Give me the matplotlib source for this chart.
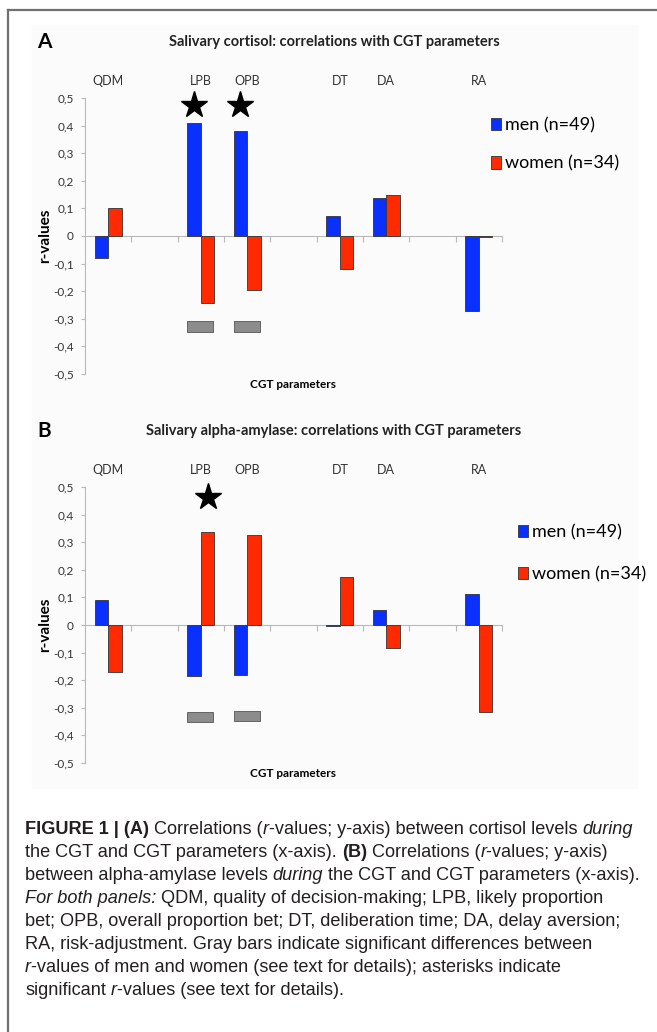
import numpy as np
import matplotlib
matplotlib.use('Agg')
import matplotlib.pyplot as plt
from matplotlib.lines import Line2D
from matplotlib.patches import Patch, Rectangle
from matplotlib.ticker import FuncFormatter
from matplotlib.transforms import IdentityTransform

plt.rcParams['font.family'] = ['Lato', 'DejaVu Sans']

nan = np.nan
# 9 slots on the x axis, three of them left empty in the original chart
categories = ['QDM', '', 'LPB', 'OPB', '', 'DT', 'DA', '', 'RA']

cortisol_men = [-0.080, nan, 0.408, 0.380, nan, 0.071, 0.139, nan, -0.272]
cortisol_women = [0.100, nan, -0.242, -0.196, nan, -0.118, 0.147, nan, -0.005]
cortisol_diff_top = [nan, nan, -0.308, -0.308, nan, nan, nan, nan, nan]
cortisol_diff_bottom = [nan, nan, -0.347, -0.347, nan, nan, nan, nan, nan]
cortisol_star_men = [nan, nan, 0.475, 0.475, nan, nan, nan, nan, nan]
cortisol_star_women = [nan] * 9

amylase_men = [0.091, nan, -0.185, -0.180, nan, -0.005, 0.055, nan, 0.113]
amylase_women = [-0.172, nan, 0.337, 0.325, nan, 0.175, -0.084, nan, -0.314]
amylase_diff_top = [nan, nan, -0.316, -0.313, nan, nan, nan, nan, nan]
amylase_diff_bottom = [nan, nan, -0.353, -0.347, nan, nan, nan, nan, nan]
amylase_star_men = [nan] * 9
amylase_star_women = [nan, nan, 0.464, nan, nan, nan, nan, nan, nan]

legend_labels = ['men (n=49)', 'women (n=34)']
titles = ['Salivary cortisol: correlations with CGT parameters',
          'Salivary alpha-amylase: correlations with CGT parameters']

BLUE = '#0a30ff'
RED = '#ff2a00'
GRAY = '#8c8c8c'
AXGRAY = '#b8b8b8'

W, H = 657, 1032
fig = plt.figure(figsize=(W / 100, H / 100), dpi=100)


def fx(x):
    return x / W


def fy(y):
    return 1 - y / H


# faint panel background + page frame
fig.patches.append(Rectangle((fx(32), fy(788)), fx(637) - fx(32), fy(25) - fy(788),
                             transform=fig.transFigure, color='#fbfbfb', zorder=-10))
fig.lines.append(Line2D([fx(8), fx(8)], [0, fy(10)], transform=fig.transFigure,
                        color='#707070', lw=1.6))
fig.lines.append(Line2D([fx(8), 1], [fy(10), fy(10)], transform=fig.transFigure,
                        color='#707070', lw=1.6))


def yfmt(v, pos):
    if abs(v) < 1e-9:
        return '0'
    return ('%.1f' % v).replace('.', ',')


def panel(top_px, men, women, dtop, dbot, star_m, star_w, letter, title, leg_xy, leg_space):
    bottom_px = top_px + 276
    ax = fig.add_axes([fx(85), fy(bottom_px), fx(502) - fx(85), fy(top_px) - fy(bottom_px)])
    ax.set_facecolor('none')
    idx = np.arange(len(categories))
    bw = 0.29
    ax.bar(idx + 0.5 - bw / 2, men, bw, color=BLUE, edgecolor='#333333', lw=0.6, zorder=3)
    ax.bar(idx + 0.5 + bw / 2, women, bw, color=RED, edgecolor='#333333', lw=0.6, zorder=3)
    d = np.array(dbot) - np.array(dtop)
    ax.bar(idx + 0.49, d, 0.56, bottom=dtop, color=GRAY, edgecolor='#555555', lw=0.6, zorder=3)
    ax.plot(idx + 0.5 - bw / 2, star_m, ls='none', marker='*', ms=20, color='black', clip_on=False)
    ax.plot(idx + 0.5 + bw / 2, star_w, ls='none', marker='*', ms=20, color='black', clip_on=False)

    ax.set_xlim(0, len(categories))
    ax.set_ylim(-0.5, 0.5)
    for s in ['top', 'right']:
        ax.spines[s].set_visible(False)
    ax.spines['left'].set_color(AXGRAY)
    ax.spines['bottom'].set_color(AXGRAY)
    ax.spines['bottom'].set_position(('data', 0))
    ax.spines['bottom'].set_zorder(2)
    ax.set_xticks(idx + 1)
    ax.set_xticklabels([])
    ax.set_yticks(np.linspace(-0.5, 0.5, 11))
    ax.yaxis.set_major_formatter(FuncFormatter(yfmt))
    ax.tick_params(axis='x', length=4, color=AXGRAY, direction='out')
    ax.tick_params(axis='y', length=3, color=AXGRAY, pad=5, labelsize=8.5, labelcolor='#333333')

    sec = ax.secondary_xaxis('top')
    sec.set_xticks(idx + 0.5, labels=categories)
    sec.tick_params(length=0, pad=8, labelsize=9, labelcolor='#333333')
    sec.spines['top'].set_visible(False)

    ax.set_ylabel('r-values', fontsize=11, fontweight='bold', labelpad=1)
    ax.set_xlabel('CGT parameters', fontsize=8.5, fontweight='bold')
    ax.xaxis.set_label_coords(0.5, -0.018)

    fig.text(fx(37), fy(top_px - 56), letter, fontsize=15, fontweight='bold', va='center')
    fig.text(fx(334), fy(top_px - 56), title, fontsize=10.5, fontweight='bold',
             ha='center', va='center', color='#222222')

    handles = [Patch(facecolor=BLUE, edgecolor='#333333', lw=0.6),
               Patch(facecolor=RED, edgecolor='#333333', lw=0.6)]
    fig.legend(handles, legend_labels, loc='upper left',
               bbox_to_anchor=(fx(leg_xy[0]), fy(leg_xy[1])), frameon=False,
               fontsize=13, handlelength=0.55, handleheight=0.65, handletextpad=0.25,
               borderpad=0, borderaxespad=0, labelspacing=leg_space)
    return ax


panel(98, cortisol_men, cortisol_women, cortisol_diff_top, cortisol_diff_bottom,
      cortisol_star_men, cortisol_star_women, 'A', titles[0], (491, 117), 1.25)
panel(487, amylase_men, amylase_women, amylase_diff_top, amylase_diff_bottom,
      amylase_star_men, amylase_star_women, 'B', titles[1], (518, 524), 1.45)

# caption with mixed styles, laid out segment by segment
caption = [
    [('FIGURE 1 | (A)', 'b'), (' Correlations (', 'n'), ('r', 'i'),
     ('-values; y-axis) between cortisol levels ', 'n'), ('during', 'i')],
    [('the CGT and CGT parameters (x-axis). ', 'n'), ('(B)', 'b'), (' Correlations (', 'n'),
     ('r', 'i'), ('-values; y-axis)', 'n')],
    [('between alpha-amylase levels ', 'n'), ('during', 'i'),
     (' the CGT and CGT parameters (x-axis).', 'n')],
    [('For both panels:', 'i'), (' QDM, quality of decision-making; LPB, likely proportion', 'n')],
    [('bet; OPB, overall proportion bet; DT, deliberation time; DA, delay aversion;', 'n')],
    [('RA, risk-adjustment. Gray bars indicate significant differences between', 'n')],
    [('r', 'i'), ('-values of men and women (see text for details); asterisks indicate', 'n')],
    [('significant ', 'n'), ('r', 'i'), ('-values (see text for details).', 'n')],
]
cap_font = ['Liberation Sans Narrow', 'Liberation Sans', 'DejaVu Sans']
cap_size = 13.1
renderer = fig.canvas.get_renderer()


def text_w(s, style):
    t = fig.text(0, 0, s, fontsize=cap_size, family=cap_font,
                 fontweight='bold' if style == 'b' else 'normal',
                 fontstyle='italic' if style == 'i' else 'normal')
    w = t.get_window_extent(renderer).width
    t.remove()
    return w


space_w = text_w('a a', 'n') - text_w('aa', 'n')
for k, line in enumerate(caption):
    x = 25
    base = H - (834 + 23 * k)
    for s, style in line:
        lead = len(s) - len(s.lstrip(' '))
        trail = len(s) - len(s.rstrip(' '))
        core = s.strip(' ')
        x += lead * space_w
        t = fig.text(x, base, core, transform=IdentityTransform(), fontsize=cap_size,
                     family=cap_font, color='#231f20', va='baseline',
                     fontweight='bold' if style == 'b' else 'normal',
                     fontstyle='italic' if style == 'i' else 'normal')
        x += t.get_window_extent(renderer).width + trail * space_w

fig.savefig('out.png', dpi=100)
